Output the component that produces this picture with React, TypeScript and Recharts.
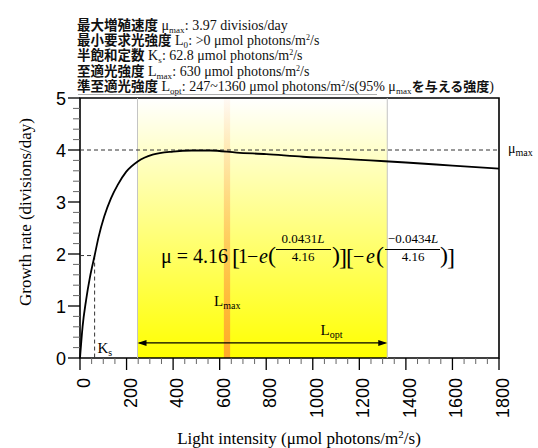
import React from 'react';
import { ComposedChart, XAxis, YAxis, Line, ReferenceArea, ReferenceLine } from 'recharts';

// light intensity (µmol photons/m2/s) and growth rate (divisions/day)
const lightValues = [0, 11, 26, 43, 62.8, 80, 104, 133, 162, 198, 248, 312, 400, 480, 560, 673, 800, 958, 1100, 1246, 1400, 1600, 1800];
const rateValues = [0, 0.6, 1.11, 1.56, 1.97, 2.33, 2.72, 3.07, 3.33, 3.58, 3.78, 3.91, 3.97, 3.99, 3.99, 3.95, 3.92, 3.87, 3.84, 3.8, 3.76, 3.7, 3.64];

const xMajorTicks = [0, 200, 400, 600, 800, 1000, 1200, 1400, 1600, 1800];
const yMajorTicks = [0, 1, 2, 3, 4, 5];

const muMax = 4;
const ksLight = 62.8;
const ksRate = 1.97;
const optStart = 247;
const optEnd = 1320;
const lmaxStart = 618;
const lmaxEnd = 645;
const arrowRate = 0.29;

const chartData = lightValues.map((light, i) => ({ light, rate: rateValues[i] }));

const xTicks = Array.from({ length: 37 }, (_, i) => i * 50);
const yTicks = Array.from({ length: 26 }, (_, i) => Math.round(i * 2) / 10);

const serif = '"Liberation Serif", "DejaVu Serif", serif';
const sans = '"Liberation Sans", Arial, sans-serif';
const cjk = '"Noto Sans CJK JP", sans-serif';

const XTick = (props: any) => {
  const { x, y, payload } = props;
  const v = payload.value;
  const major = xMajorTicks.includes(v);
  return (
    <g>
      <line x1={x} y1={y} x2={x} y2={y + (major ? 12 : 6)} stroke={major ? '#000' : '#666'} strokeWidth={major ? 1.3 : 1} />
      {major && (
        <text x={x + 10} y={378} transform={`rotate(-90, ${x + 10}, 378)`} textAnchor="end" fontFamily={sans} fontSize={18} fill="#000">
          {v}
        </text>
      )}
    </g>
  );
};

const YTick = (props: any) => {
  const { x, y, payload } = props;
  const v = payload.value;
  const major = yMajorTicks.some((t) => Math.abs(t - v) < 1e-6);
  return (
    <g>
      <line x1={x - (major ? 12 : 7)} y1={y} x2={x} y2={y} stroke={major ? '#000' : '#666'} strokeWidth={major ? 1.3 : 1} />
      {major && (
        <text x={x - 14} y={y + 6.5} textAnchor="end" fontFamily={sans} fontSize={18} fill="#000">
          {v}
        </text>
      )}
    </g>
  );
};

const ArrowShape = (props: any) => {
  const { x1, y1, x2, y2 } = props;
  return (
    <g>
      <line x1={x1 + 2} y1={y1} x2={x2 - 2} y2={y2} stroke="#000" strokeWidth={1.3} />
      <polygon points={`${x1},${y1} ${x1 + 9},${y1 - 3} ${x1 + 9},${y1 + 3}`} fill="#000" />
      <polygon points={`${x2},${y2} ${x2 - 9},${y2 - 3} ${x2 - 9},${y2 + 3}`} fill="#000" />
    </g>
  );
};

const Sub = ({ children, size = 9 }: { children: string; size?: number }) => (
  <>
    <tspan fontSize={size} dy={3}>{children}</tspan>
    <tspan fontSize={1} dy={-3}>{' '}</tspan>
  </>
);

const headerLines = [
  { jp: '最大増殖速度', sym: 'μ', sub: 'max', rest: ': 3.97 divisios/day', y: 29.5 },
  { jp: '最小要求光強度', sym: 'L', sub: '0', rest: ': >0 μmol photons/m', y: 44.5 },
  { jp: '半飽和定数', sym: 'K', sub: 's', rest: ': 62.8 μmol photons/m', y: 60 },
  { jp: '至適光強度', sym: 'L', sub: 'max', rest: ': 630 μmol photons/m', y: 75.5 },
  { jp: '準至適光強度', sym: 'L', sub: 'opt', rest: ': 247~1360 μmol photons/m', y: 91 },
];

export default function App() {
  return (
    <div style={{ position: 'absolute', left: 0, top: 0, width: 538, height: 448, background: '#fff' }}>
      <ComposedChart width={538} height={448} data={chartData} margin={{ top: 98, right: 39, bottom: 0, left: 0 }}>
        <defs>
          <linearGradient id="yellowBand" x1="0" y1="0" x2="0" y2="1">
            <stop offset="0%" stopColor="#ffffff" />
            <stop offset="100%" stopColor="#ffff00" />
          </linearGradient>
          <linearGradient id="orangeBand" x1="0" y1="0" x2="0" y2="1">
            <stop offset="0%" stopColor="#ff9a60" stopOpacity={0.06} />
            <stop offset="100%" stopColor="#ff9a30" stopOpacity={0.85} />
          </linearGradient>
        </defs>
        <XAxis type="number" dataKey="light" domain={[0, 1800]} ticks={xTicks} interval={0} tick={<XTick />} tickSize={0} tickMargin={0} tickLine={false} axisLine={false} height={90} />
        <YAxis type="number" domain={[0, 5]} ticks={yTicks} interval={0} tick={<YTick />} tickSize={0} tickMargin={0} tickLine={false} axisLine={false} width={80} />
        <ReferenceArea x1={optStart} x2={optEnd} y1={0} y2={5} fill="url(#yellowBand)" fillOpacity={1} stroke="none" />
        <ReferenceArea x1={lmaxStart} x2={lmaxEnd} y1={0} y2={5} fill="url(#orangeBand)" fillOpacity={1} stroke="none" />
        <ReferenceLine x={optStart} stroke="#c4c4c4" strokeWidth={1} />
        <ReferenceLine x={optEnd} stroke="#c4c4c4" strokeWidth={1} />
        <ReferenceLine y={muMax} stroke="#333" strokeDasharray="4 3" strokeWidth={1} />
        <ReferenceLine segment={[{ x: 0, y: ksRate }, { x: ksLight, y: ksRate }]} stroke="#333" strokeDasharray="4 3" strokeWidth={1} />
        <ReferenceLine segment={[{ x: ksLight, y: ksRate }, { x: ksLight, y: 0 }]} stroke="#333" strokeDasharray="4 3" strokeWidth={1} />
        <ReferenceLine segment={[{ x: optStart, y: arrowRate }, { x: optEnd, y: arrowRate }]} shape={<ArrowShape />} />
        <Line dataKey="rate" type="monotone" stroke="#000" strokeWidth={1.8} dot={false} isAnimationActive={false} />
        <ReferenceArea x1={0} x2={1800} y1={0} y2={5} fill="none" stroke="#000" strokeWidth={1.6} />
      </ComposedChart>
      <svg width={538} height={448} style={{ position: 'absolute', left: 0, top: 0, pointerEvents: 'none' }}>
        {headerLines.map((l, i) => (
          <text key={i} x={77} y={l.y} fontSize={14} fill="#111" fontFamily={serif}>
            <tspan fontFamily={cjk} fontWeight={700} fontSize={13.5}>{l.jp}</tspan>
            <tspan> {l.sym}</tspan>
            <Sub>{l.sub}</Sub>
            <tspan>{l.rest}</tspan>
            {i > 0 && <tspan fontSize={8} dy={-5}>2</tspan>}
            {i > 0 && <tspan dy={5}>/s</tspan>}
            {i === 4 && <tspan>(95% μ</tspan>}
            {i === 4 && <Sub>max</Sub>}
            {i === 4 && <tspan fontFamily={cjk} fontWeight={700} fontSize={13}>を与える強度</tspan>}
            {i === 4 && <tspan>)</tspan>}
          </text>
        ))}
        <line x1={78} y1={94.5} x2={377} y2={94.5} stroke="#999" strokeWidth={0.8} />

        <text x={25} y={212} transform="rotate(-90, 25, 212)" textAnchor="middle" dominantBaseline="central" fontFamily={serif} fontSize={17} fill="#000">
          Growth rate (divisions/day)
        </text>
        <text x={299} y={444} textAnchor="middle" fontFamily={serif} fontSize={17} fill="#000">
          Light intensity (μmol photons/m<tspan fontSize={11} dy={-6}>2</tspan><tspan dy={6}>/s)</tspan>
        </text>

        <text x={508} y={153} fontFamily={serif} fontSize={14} fill="#000">
          μ<Sub size={10}>max</Sub>
        </text>
        <text x={97.5} y={353} fontFamily={serif} fontSize={15} fill="#000">
          K<Sub size={10}>s</Sub>
        </text>
        <text x={214} y={306} fontFamily={serif} fontSize={15} fill="#000">
          L<Sub size={10}>max</Sub>
        </text>
        <text x={320.5} y={335} fontFamily={serif} fontSize={15} fill="#000">
          L<Sub size={10}>opt</Sub>
        </text>

        <g fontFamily={serif} fill="#000">
          <text x={161} y={263} fontSize={20}>μ = 4.16</text>
          <text x={232} y={265} fontSize={24}>[</text>
          <text x={238} y={263} fontSize={20}>1</text>
          <text x={247} y={263} fontSize={20}>−</text>
          <text x={259} y={263} fontSize={20} fontStyle="italic">e</text>
          <text x={268} y={263} fontSize={24}>(</text>
          <text x={303} y={243} fontSize={13} textAnchor="middle">0.0431<tspan fontStyle="italic">L</tspan></text>
          <line x1={276} y1={249.5} x2={331} y2={249.5} stroke="#000" strokeWidth={1} />
          <text x={303} y={261} fontSize={13} textAnchor="middle">4.16</text>
          <text x={332} y={263} fontSize={24}>)</text>
          <text x={339} y={265} fontSize={24}>]</text>
          <text x={346} y={265} fontSize={24}>[</text>
          <text x={353} y={263} fontSize={20}>−</text>
          <text x={366} y={263} fontSize={20} fontStyle="italic">e</text>
          <text x={376} y={263} fontSize={24}>(</text>
          <text x={413} y={243} fontSize={13} textAnchor="middle">−0.0434<tspan fontStyle="italic">L</tspan></text>
          <line x1={385} y1={249.5} x2={440} y2={249.5} stroke="#000" strokeWidth={1} />
          <text x={413} y={261} fontSize={13} textAnchor="middle">4.16</text>
          <text x={440} y={263} fontSize={24}>)</text>
          <text x={447} y={265} fontSize={24}>]</text>
        </g>
      </svg>
    </div>
  );
}
